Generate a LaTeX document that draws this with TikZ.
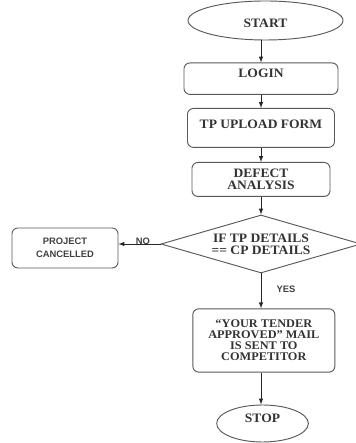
\documentclass[tikz,border=0pt]{standalone}
\usepackage{fontspec}
\setmainfont{Liberation Serif}[FakeStretch=1.05]
\setsansfont{Liberation Sans}
\usepackage{tikz}
\usetikzlibrary{shapes.geometric}

\tikzset{
	terminal/.style={ellipse, draw=black!65, line width=0.8pt, inner sep=0pt, text=black!80, font=\bfseries\fontsize{11}{11}\selectfont},
	procbox/.style={rectangle, rounded corners=5pt, draw=black!65, line width=0.8pt, inner sep=2pt, anchor=north, align=center, text=black!80, font=\bfseries\fontsize{11}{10.5}\selectfont},
	decision/.style={diamond, draw=black!65, line width=0.8pt, inner sep=0pt, aspect=3, align=center, text=black!80, font=\bfseries\fontsize{11}{10.5}\selectfont},
	flowline/.style={->, >=latex, line width=0.75pt, black!85},
	lbl/.style={inner sep=1pt, text=black!75, font=\sffamily\bfseries\fontsize{8}{8}\selectfont}
}

\begin{document}
\begin{tikzpicture}[scale=1]
		\useasboundingbox (0,0) rectangle (10.65,13.29);
		% Main column of steps
		\node[terminal, minimum width=4.65cm, minimum height=1.17cm, text height=12pt, text depth=0pt] (start) at (7.965,12.675) {START};
		\node[procbox, minimum width=4.62cm, text height=10.3pt, text depth=12.5pt] (login) at (7.83,11.415) {LOGIN};
		\node[procbox, minimum width=4.41cm, text height=15.3pt, text depth=13.9pt] (upload) at (7.83,10.05) {TP UPLOAD FORM};
		\node[procbox, minimum width=4.14cm, minimum height=1.02cm] (defect) at (7.83,8.43) {DEFECT\\ANALYSIS};
		\node[decision, minimum width=6cm, minimum height=1.74cm] (check) at (7.83,5.97) {IF TP DETAILS\\== CP DETAILS};
		\node[procbox, minimum width=4.26cm, minimum height=1.9cm, font=\bfseries\fontsize{10}{9.3}\selectfont] (mail) at (7.915,4.04) {“YOUR TENDER\\APPROVED” MAIL\\IS SENT TO\\COMPETITOR};
		\node[terminal, minimum width=2.75cm, minimum height=1.11cm, text height=0pt, text depth=1.5pt] (stop) at (7.875,0.585) {STOP};

		% Rejected branch
		\node[procbox, anchor=center, minimum width=3.18cm, minimum height=1.2cm, font=\sffamily\bfseries\fontsize{8}{11.3}\selectfont, text=black!75] (cancel) at (1.95,5.85) {PROJECT\\CANCELLED};

		% Connectors
		\draw[flowline] (start.south -| login.north) -- (login.north);
		\draw[flowline] (login.south) -- (upload.north);
		\draw[flowline] (upload.south) -- (defect.north);
		\draw[flowline] (defect.south) -- (check.north);
		\draw[flowline] (check.south) -- node[lbl, pos=0.45, right=12pt] {YES} (check.south |- mail.north);
		\draw[flowline] (mail.south -| check.south) -- (stop.north -| check.south);
		\draw[flowline] (check.west) -- node[lbl, pos=0.42, yshift=2.5pt] {NO} (check.west -| cancel.east);
	\end{tikzpicture}
\end{document}
